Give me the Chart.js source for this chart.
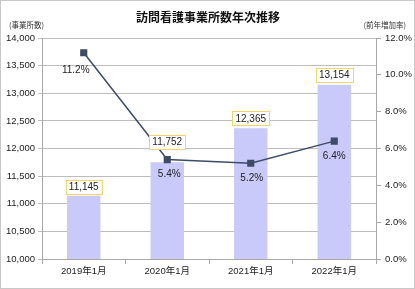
<!DOCTYPE html>
<html>
<head>
<meta charset="utf-8">
<script src="https://cdn.jsdelivr.net/npm/chart.js@4"></script>
<style>
html,body{margin:0;padding:0;background:#fff;}
#wrap{width:415px;height:289px;position:relative;}
</style>
</head>
<body>
<div id="wrap"><canvas id="c" width="415" height="289"></canvas></div>
<script>
const categories = ["2019年1月", "2020年1月", "2021年1月", "2022年1月"];
const offices = [11145, 11752, 12365, 13154];
const growthRate = [11.2, 5.4, 5.2, 6.4];
const chartTitle = "訪問看護事業所数年次推移";
const leftAxisTitle = "(事業所数)";
const rightAxisTitle = "(前年増加率)";

const FONT = "'Liberation Sans', 'Noto Sans CJK JP', sans-serif";
const JFONT = "'Noto Sans CJK JP', sans-serif";
const barLabelDy = [-9, -20, -10, -10];
const lineLabelOffset = [[-8, 18], [2, 15], [1, 15], [0, 15]];

const labelPlugin = {
  id: 'labels',
  afterDatasetsDraw(chart) {
    const ctx = chart.ctx;
    ctx.save();
    // bar labels
    const barMeta = chart.getDatasetMeta(0);
    ctx.font = "10px " + FONT;
    ctx.textAlign = 'center';
    ctx.textBaseline = 'middle';
    barMeta.data.forEach((el, i) => {
      const txt = offices[i].toLocaleString('en-US');
      const w = ctx.measureText(txt).width + 6;
      const h = 14;
      const cx = el.x, cy = el.y + barLabelDy[i];
      ctx.fillStyle = '#fff';
      ctx.fillRect(cx - w/2, cy - h/2, w, h);
      ctx.strokeStyle = '#f3d36a';
      ctx.lineWidth = 1;
      ctx.strokeRect(Math.round(cx - w/2) + 0.5, Math.round(cy - h/2) + 0.5, Math.round(w), h);
      ctx.fillStyle = '#222';
      ctx.fillText(txt, cx, cy + 0.5);
    });
    // line labels
    const lineMeta = chart.getDatasetMeta(1);
    lineMeta.data.forEach((el, i) => {
      const txt = growthRate[i].toFixed(1) + '%';
      ctx.fillStyle = '#222';
      ctx.fillText(txt, el.x + lineLabelOffset[i][0], el.y + lineLabelOffset[i][1]);
    });
    ctx.restore();
  },
  afterDraw(chart) {
    const ctx = chart.ctx;
    ctx.save();
    ctx.fillStyle = '#111';
    ctx.font = "bold 12px " + JFONT;
    ctx.textAlign = 'center';
    ctx.textBaseline = 'middle';
    ctx.fillText(chartTitle, 208, 17);
    ctx.font = "7.5px " + JFONT;
    ctx.fillStyle = '#333';
    ctx.textAlign = 'left';
    ctx.fillText(leftAxisTitle, 9, 25);
    ctx.textAlign = 'right';
    ctx.fillText(rightAxisTitle, 406, 25);
    ctx.strokeStyle = '#c8c8c8';
    ctx.lineWidth = 1;
    ctx.strokeRect(0.5, 0.5, 414, 288);
    ctx.restore();
  }
};

new Chart(document.getElementById('c'), {
  data: {
    labels: categories,
    datasets: [
      {
        type: 'bar',
        data: offices,
        backgroundColor: 'rgb(201,201,250)',
        yAxisID: 'y',
        barPercentage: 0.8,
        categoryPercentage: 0.5,
        order: 2
      },
      {
        type: 'line',
        data: growthRate,
        yAxisID: 'y1',
        borderColor: 'rgb(62,76,102)',
        borderWidth: 1.5,
        pointStyle: 'rect',
        pointRadius: 4,
        pointBackgroundColor: 'rgb(62,76,102)',
        pointBorderColor: 'rgb(62,76,102)',
        tension: 0,
        order: 1
      }
    ]
  },
  options: {
    responsive: false,
    animation: false,
    devicePixelRatio: 1,
    layout: { padding: { top: 38, left: 0, right: 0, bottom: 0 } },
    plugins: { legend: { display: false }, tooltip: { enabled: false }, title: { display: false } },
    scales: {
      x: {
        offset: true,
        grid: { offset: true, drawOnChartArea: false, drawTicks: true, tickLength: 5, color: '#a8a8a8' },
        border: { color: '#a8a8a8' },
        ticks: { font: { size: 9.5, family: FONT }, color: '#222', padding: 2, maxRotation: 0 },
        afterFit(s) { s.height = 30; }
      },
      y: {
        position: 'left',
        min: 10000, max: 14000,
        grid: { color: '#bdbdbd', tickLength: 4 },
        border: { color: '#a8a8a8' },
        ticks: { stepSize: 500, font: { size: 9.5, family: FONT }, color: '#222', padding: 3,
          callback: v => v.toLocaleString('en-US') },
        afterFit(s) { s.width = 42; }
      },
      y1: {
        position: 'right',
        min: 0, max: 12,
        grid: { drawOnChartArea: false, tickLength: 5, color: '#a8a8a8' },
        border: { color: '#a8a8a8' },
        ticks: { stepSize: 2, font: { size: 9.5, family: FONT }, color: '#222', padding: 4,
          callback: v => v.toFixed(1) + '%' },
        afterFit(s) { s.width = 39; }
      }
    }
  },
  plugins: [labelPlugin]
});
</script>
</body>
</html>
